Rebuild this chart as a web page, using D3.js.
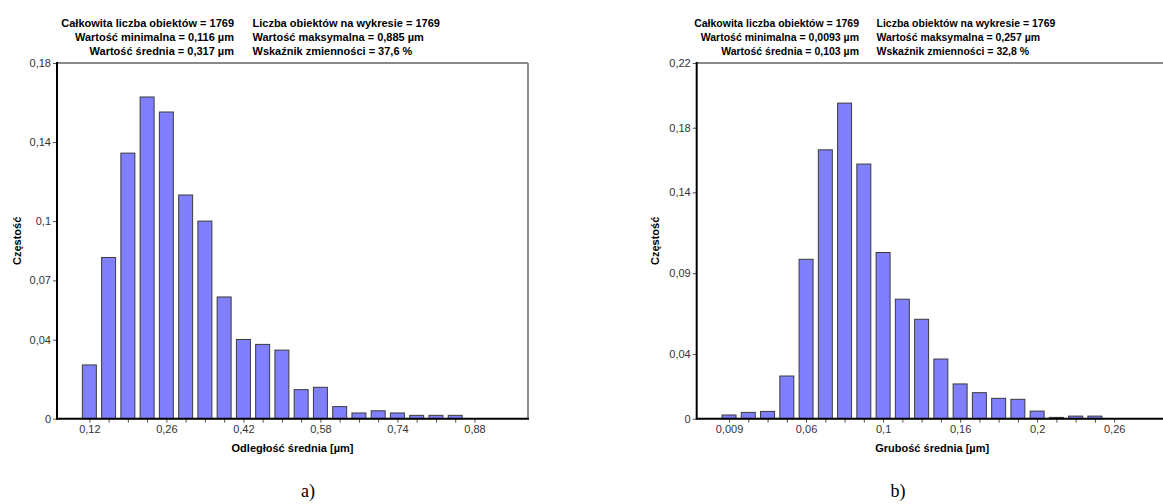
<!DOCTYPE html>
<html>
<head>
<meta charset="utf-8">
<script src="https://cdn.jsdelivr.net/npm/d3@7"></script>
<style>
  html, body { margin: 0; padding: 0; background: #fff; }
  svg { display: block; }
</style>
</head>
<body>
<svg id="chart" width="1163" height="504"></svg>
<script>
// ---------- DATA ----------
// Chart a) – Odległość średnia
const freqA = [0.0272, 0.0816, 0.1344, 0.1628, 0.1552, 0.1132, 0.1000, 0.0616, 0.0401, 0.0376,
               0.0347, 0.0147, 0.0159, 0.0061, 0.0029, 0.0040, 0.0029, 0.0017, 0.0017, 0.0017];
const xTickLabelsA = ["0,12", "0,26", "0,42", "0,58", "0,74", "0,88"];
const yTicksA = [0, 0.04, 0.07, 0.1, 0.14, 0.18];
const yMaxA = 0.18;
const headerA = [
  ["Całkowita liczba obiektów = 1769", "Liczba obiektów na wykresie = 1769"],
  ["Wartość minimalna = 0,116 µm", "Wartość maksymalna = 0,885 µm"],
  ["Wartość średnia = 0,317 µm", "Wskaźnik zmienności = 37,6 %"]
];
const xTitleA = "Odległość średnia [µm]";

// Chart b) – Grubość średnia
const freqB = [0.0023, 0.0039, 0.0045, 0.0264, 0.0986, 0.1663, 0.1952, 0.1575, 0.1028, 0.0739,
               0.0615, 0.0369, 0.0215, 0.0161, 0.0126, 0.0120, 0.0047, 0.0008, 0.0016, 0.0016];
const xTickLabelsB = ["0,009", "0,06", "0,1", "0,16", "0,2", "0,26"];
const yTicksB = [0, 0.04, 0.09, 0.14, 0.18, 0.22];
const yMaxB = 0.22;
const headerB = [
  ["Całkowita liczba obiektów = 1769", "Liczba obiektów na wykresie = 1769"],
  ["Wartość minimalna = 0,0093 µm", "Wartość maksymalna = 0,257 µm"],
  ["Wartość średnia = 0,103 µm", "Wskaźnik zmienności = 32,8 %"]
];
const xTitleB = "Grubość średnia [µm]";

const yTitle = "Częstość";
const captions = ["a)", "b)"];
const labelEvery = 4; // one x label every 4 bins

// ---------- LAYOUT ----------
const FONT = "'Liberation Sans', Arial, sans-serif";
const svg = d3.select("#chart");

function drawChart(cfg) {
  const { left, top, width, height, freq, xLabels, yTicks, yMax, header, xTitle,
          headerFont, col1End, col2Start, caption, yTitleX } = cfg;
  const bottom = top + height;
  const g = svg.append("g");

  const x = d3.scaleLinear().domain([-1.68, 22.78]).range([left, left + width]);
  const y = d3.scaleLinear().domain([0, yMax]).range([bottom, top]);
  const halfBar = 0.363;

  // bars
  g.append("g").selectAll("rect").data(freq).join("rect")
    .attr("x", (d, i) => x(i - halfBar))
    .attr("width", (d, i) => x(i + halfBar) - x(i - halfBar))
    .attr("y", d => y(d))
    .attr("height", d => y(0) - y(d))
    .attr("fill", "#8080ff")
    .attr("stroke", "#3a3a3a")
    .attr("stroke-width", 1);

  // frame: top and right grey
  g.append("line").attr("x1", left).attr("x2", left + width).attr("y1", top).attr("y2", top)
    .attr("stroke", "#8a8a8a").attr("stroke-width", 2);
  g.append("line").attr("x1", left + width).attr("x2", left + width).attr("y1", top).attr("y2", bottom)
    .attr("stroke", "#8a8a8a").attr("stroke-width", 2);

  // y axis
  const yAxis = d3.axisLeft(y).tickValues(yTicks).tickSize(4).tickPadding(2)
    .tickFormat(d => String(d).replace(".", ","));
  const ya = g.append("g").attr("transform", `translate(${left},0)`).call(yAxis);
  ya.select(".domain").remove();
  ya.selectAll(".tick line").attr("stroke", "#555");
  ya.selectAll(".tick text").attr("font-family", FONT).attr("font-size", 11).attr("fill", "#333");

  // x axis: ticks at every bin centre, labels every 4th
  const nTicks = (xLabels.length - 1) * labelEvery + 1;
  const tickIdx = d3.range(nTicks);
  const xAxis = d3.axisBottom(x).tickValues(tickIdx).tickSize(4).tickPadding(3)
    .tickFormat(i => (i % labelEvery === 0 ? xLabels[i / labelEvery] : ""));
  const xa = g.append("g").attr("transform", `translate(0,${bottom})`).call(xAxis);
  xa.select(".domain").remove();
  xa.selectAll(".tick line").attr("stroke", "#555");
  xa.selectAll(".tick text").attr("font-family", FONT).attr("font-size", 11).attr("fill", "#333");

  // left & bottom axis lines (black)
  g.append("line").attr("x1", left).attr("x2", left).attr("y1", top - 1).attr("y2", bottom + 1)
    .attr("stroke", "#000").attr("stroke-width", 2);
  g.append("line").attr("x1", left).attr("x2", left + width + 1).attr("y1", bottom).attr("y2", bottom)
    .attr("stroke", "#000").attr("stroke-width", 2);

  // header
  const hb = [27, 41, 55];
  header.forEach((row, r) => {
    g.append("text").attr("x", col1End).attr("y", hb[r]).attr("text-anchor", "end")
      .attr("font-family", FONT).attr("font-weight", "bold").attr("font-size", headerFont)
      .attr("fill", "#000").text(row[0]);
    g.append("text").attr("x", col2Start).attr("y", hb[r]).attr("text-anchor", "start")
      .attr("font-family", FONT).attr("font-weight", "bold").attr("font-size", headerFont)
      .attr("fill", "#000").text(row[1]);
  });

  // axis titles
  g.append("text").attr("x", left + width / 2).attr("y", 452).attr("text-anchor", "middle")
    .attr("font-family", FONT).attr("font-weight", "bold").attr("font-size", 11)
    .text(xTitle);
  g.append("text")
    .attr("transform", `translate(${yTitleX},${(top + bottom) / 2}) rotate(-90)`)
    .attr("text-anchor", "middle")
    .attr("font-family", FONT).attr("font-weight", "bold").attr("font-size", 11)
    .text(yTitle);

  // caption
  g.append("text").attr("x", cfg.captionX).attr("y", 497).attr("text-anchor", "middle")
    .attr("font-family", "'Liberation Serif', 'Times New Roman', serif").attr("font-size", 18)
    .text(caption);
}

drawChart({
  left: 57, top: 63, width: 471, height: 355.7,
  freq: freqA, xLabels: xTickLabelsA, yTicks: yTicksA, yMax: yMaxA,
  header: headerA, xTitle: xTitleA, headerFont: 11, col1End: 234, col2Start: 252.5,
  caption: captions[0], captionX: 308, yTitleX: 21
});
drawChart({
  left: 696.7, top: 63, width: 471, height: 355.7,
  freq: freqB, xLabels: xTickLabelsB, yTicks: yTicksB, yMax: yMaxB,
  header: headerB, xTitle: xTitleB, headerFont: 10.5, col1End: 859, col2Start: 876.5,
  caption: captions[1], captionX: 898, yTitleX: 659
});
</script>
</body>
</html>
